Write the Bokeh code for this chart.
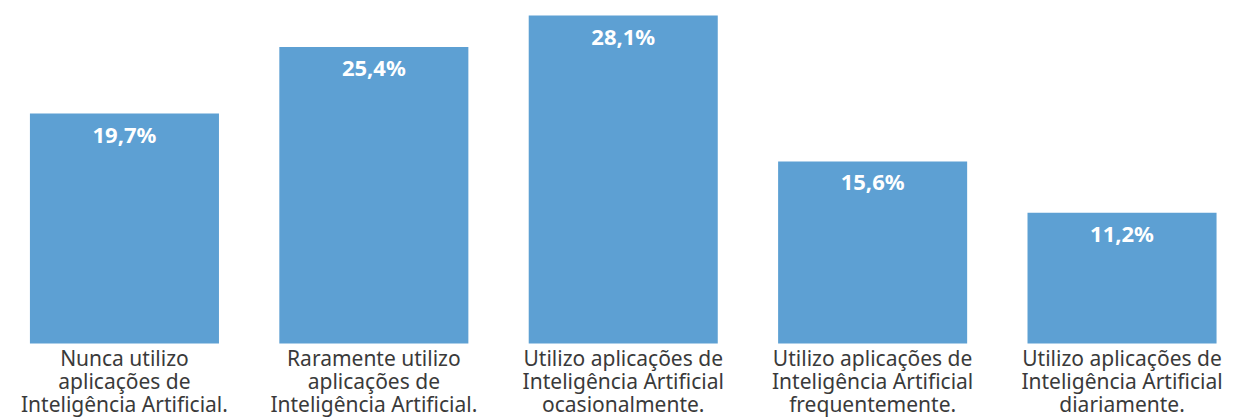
from bokeh.plotting import figure
from bokeh.models import ColumnDataSource, Range1d
from bokeh.core.properties import value
from bokeh.embed import file_html
from bokeh.resources import INLINE

categories = [
    "Nunca utilizo\naplicações de\nInteligência Artificial.",
    "Raramente utilizo\naplicações de\nInteligência Artificial.",
    "Utilizo aplicações de\nInteligência Artificial\nocasionalmente.",
    "Utilizo aplicações de\nInteligência Artificial\nfrequentemente.",
    "Utilizo aplicações de\nInteligência Artificial\ndiariamente.",
]
values = [19.7, 25.4, 28.1, 15.6, 11.2]
value_labels = ["19,7%", "25,4%", "28,1%", "15,6%", "11,2%"]

xs = list(range(len(values)))
src = ColumnDataSource(dict(x=xs, top=values, zero=[0] * len(values),
                            vlab=value_labels, cat=categories))

p = figure(width=1236, height=420, output_backend="svg", toolbar_location=None,
           x_range=Range1d(-0.497, 4.459), y_range=Range1d(-6.60, 29.39),
           min_border=0, outline_line_color=None, background_fill_color="white",
           border_fill_color="white")
p.xaxis.visible = False
p.yaxis.visible = False
p.xgrid.visible = False
p.ygrid.visible = False

p.vbar(x="x", top="top", bottom=0, width=0.758, source=src,
       fill_color="#5DA0D3", line_color=None)

p.text(x="x", y="top", text="vlab", source=src, y_offset=20,
       text_align="center", text_baseline="middle", text_color="white",
       text_font=value("Noto Sans"), text_font_style="bold", text_font_size="22px")

p.text(x="x", y="zero", text="cat", source=src, y_offset=1,
       text_align="center", text_baseline="top", text_color="#3a3a3a",
       text_font=value("Noto Sans"), text_font_size="21px", text_line_height=0.82)

open("out.html", "w").write(file_html(p, INLINE))
